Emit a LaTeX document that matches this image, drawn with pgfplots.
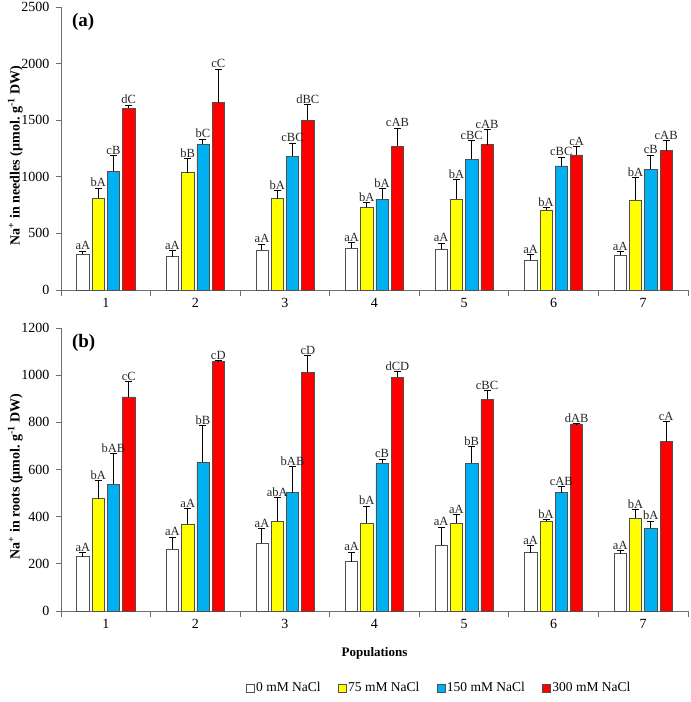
\documentclass[border=0pt]{standalone}
\usepackage{pgfplots}
\pgfplotsset{compat=1.18}
\usepackage{pgfplotstable}
\usepackage{fontspec}
\setmainfont{Liberation Serif}

\definecolor{cyel}{RGB}{255,255,0}
\definecolor{cblu}{RGB}{0,176,240}
\definecolor{cred}{RGB}{255,0,0}
\definecolor{edge}{RGB}{80,80,80}
\definecolor{axgray}{RGB}{110,110,110}

% Na+ in needles: value, error, letters for 0/75/150/300 mM
\pgfplotstableread{
x w  wE wL y    yE  yL b    bE  bL  r    rE  rL
1 315 28 aA 811 88  bA 1047 141 cB  1607 26  dC
2 295 55 aA 1038 123 bB 1288 45 bC  1654 297 cC
3 355 50 aA 808 71  bA 1182 115 cBC 1500 139 dBC
4 368 50 aA 731 41  bA 802  91  bA  1268 162 cAB
5 360 53 aA 802 171 bA 1156 165 cBC 1285 132 cAB
6 265 45 aA 708 17  bA 1097 76  cBC 1194 74  cA
7 307 32 aA 796 198 bA 1067 124 cB  1232 89  cAB
}\needles

% Na+ in roots
\pgfplotstableread{
x w  wE wL y   yE  yL  b   bE  bL  r    rE rL
1 230 17 aA 476 77  bA  538 128 bAB 908  64 cC
2 261 52 aA 367 68  aA  631 154 bB  1059 2  cD
3 289 60 aA 380 100 abA 502 110 bAB 1012 72 cD
4 209 41 aA 373 72  bA  627 17  cB  991  25 dCD
5 280 76 aA 373 35  aA  627 69  bB  898  35 cBC
6 247 31 aA 382 5   bA  502 26  cAB 793  2  dAB
7 243 12 aA 394 36  bA  350 31  bA  718  85 cA
}\roots

\pgfplotsset{
  panel/.style={
    scale only axis, width=627pt, height=283pt,
    xmin=0.5, xmax=7.5, ymin=0,
    axis x line*=bottom, axis y line*=left,
    axis line style={draw=axgray, line width=0.8pt},
    xtick={1,...,7}, minor xtick={0.5,1.5,...,7.5},
    major x tick style={draw=none},
    tick align=outside, major tick length=5pt, minor tick length=6pt,
    tick style={draw=axgray, line width=0.8pt},
    ticklabel style={font=\fontsize{14}{15}\selectfont},
    yticklabel style={xshift=-3pt},
    /pgf/number format/assume math mode=true,
    /pgf/number format/1000 sep={},
    ylabel style={font=\bfseries\fontsize{14}{16}\selectfont,
      at={(axis description cs:-0.073,0.475)}, anchor=center},
    xlabel style={font=\bfseries\fontsize{13}{15}\selectfont,
      at={(axis description cs:0.5,-0.148)}, anchor=center},
  },
  % bars drawn at their shifted x, so the error bars sit on them
  ser/.style={ybar, bar width=0.137, bar shift=0, fill=#1, draw=edge,
    line width=0.6pt,
    error bars/.cd, y dir=plus, y explicit,
    error bar style={black, line width=1pt},
    error mark options={black, rotate=90, mark size=3.5pt, line width=1pt}},
  lab/.style={forget plot, only marks, mark=none, point meta=explicit symbolic,
    nodes near coords,
    every node near coord/.append style={font=\fontsize{12.5}{14}\selectfont,
      text=black!85, inner sep=1pt, anchor=south}},
}

\begin{document}
\begin{tikzpicture}
\begin{axis}[panel, ymax=2500, ytick distance=500,
  ylabel={Na\textsuperscript{+} in needles (µmol.\ g\textsuperscript{-1} DW)}]
  \addplot[ser=white] table[x expr=\thisrow{x}-0.256, y=w, y error=wE] {\needles};
  \addplot[ser=cyel]  table[x expr=\thisrow{x}-0.085, y=y, y error=yE] {\needles};
  \addplot[ser=cblu]  table[x expr=\thisrow{x}+0.085, y=b, y error=bE] {\needles};
  \addplot[ser=cred]  table[x expr=\thisrow{x}+0.256, y=r, y error=rE] {\needles};
  \addplot[lab] table[x expr=\thisrow{x}-0.256, y expr=\thisrow{w}+\thisrow{wE}, meta=wL] {\needles};
  \addplot[lab] table[x expr=\thisrow{x}-0.085, y expr=\thisrow{y}+\thisrow{yE}, meta=yL] {\needles};
  \addplot[lab] table[x expr=\thisrow{x}+0.085, y expr=\thisrow{b}+\thisrow{bE}, meta=bL] {\needles};
  \addplot[lab] table[x expr=\thisrow{x}+0.256, y expr=\thisrow{r}+\thisrow{rE}, meta=rL] {\needles};
  \node[anchor=north west, font=\bfseries\fontsize{19}{21}\selectfont]
    at (rel axis cs:0.012,0.99) {(a)};
\end{axis}

\begin{axis}[panel, at={(0pt,-321pt)}, ymax=1200, ytick distance=200,
  ylabel={Na\textsuperscript{+} in roots (µmol.\ g\textsuperscript{-1} DW)},
  xlabel={Populations},
  legend columns=4,
  legend style={at={(0.603,-0.272)}, anchor=center, draw=none,
    font=\fontsize{13.5}{15}\selectfont, nodes={inner xsep=1.5pt},
    /tikz/every even column/.append style={column sep=16pt}},
  legend image code/.code={\draw[#1, line width=0.5pt] (0pt,-4pt) rectangle (8pt,4pt);}]
  \addplot[ser=white] table[x expr=\thisrow{x}-0.256, y=w, y error=wE] {\roots};
  \addplot[ser=cyel]  table[x expr=\thisrow{x}-0.085, y=y, y error=yE] {\roots};
  \addplot[ser=cblu]  table[x expr=\thisrow{x}+0.085, y=b, y error=bE] {\roots};
  \addplot[ser=cred]  table[x expr=\thisrow{x}+0.256, y=r, y error=rE] {\roots};
  \addplot[lab] table[x expr=\thisrow{x}-0.256, y expr=\thisrow{w}+\thisrow{wE}, meta=wL] {\roots};
  \addplot[lab] table[x expr=\thisrow{x}-0.085, y expr=\thisrow{y}+\thisrow{yE}, meta=yL] {\roots};
  \addplot[lab] table[x expr=\thisrow{x}+0.085, y expr=\thisrow{b}+\thisrow{bE}, meta=bL] {\roots};
  \addplot[lab] table[x expr=\thisrow{x}+0.256, y expr=\thisrow{r}+\thisrow{rE}, meta=rL] {\roots};
  \legend{0 mM NaCl, 75 mM NaCl, 150 mM NaCl, 300 mM NaCl}
  \node[anchor=north west, font=\bfseries\fontsize{19}{21}\selectfont]
    at (rel axis cs:0.012,0.99) {(b)};
\end{axis}
\pgfresetboundingbox
\useasboundingbox (-61pt,-412pt) rectangle (630pt,290pt);
\end{tikzpicture}
\end{document}
